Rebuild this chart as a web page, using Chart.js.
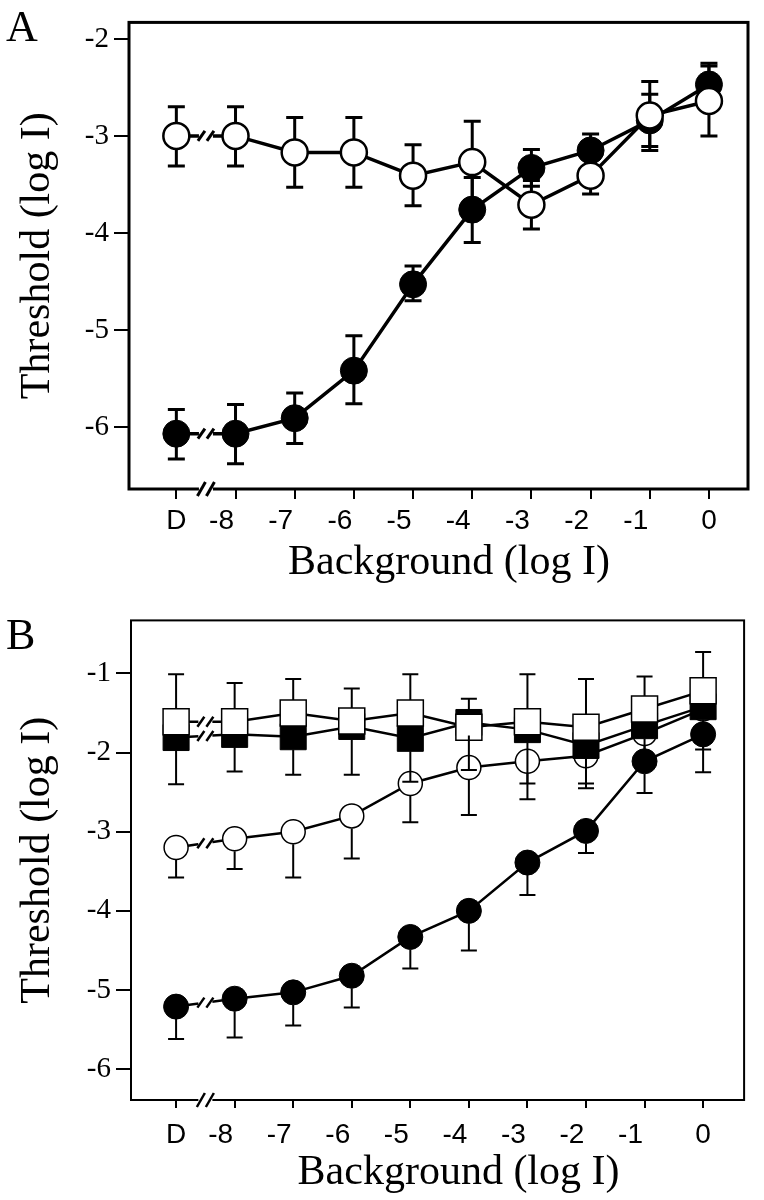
<!DOCTYPE html>
<html>
<head>
<meta charset="utf-8">
<title>Threshold vs background</title>
<script src="https://cdn.jsdelivr.net/npm/chart.js@4.4.1/dist/chart.umd.min.js"></script>
<style>
  body { margin: 0; background: #fff; }
  .panel { position: relative; width: 764px; }
  .panel canvas { display: block; }
  .letter {
    position: absolute; left: 6px; z-index: 1;
    font: 44px 'Liberation Serif', 'Times New Roman', serif; line-height: 1;
  }
</style>
</head>
<body>
<div class="panel" style="height:598px">
  <div class="letter" style="top:5px">A</div>
  <canvas id="chartA" width="764" height="598"></canvas>
</div>
<div class="panel" style="height:602px">
  <div class="letter" style="top:15px">B</div>
  <canvas id="chartB" width="764" height="602"></canvas>
</div>
<script>
// Background (log I); D = dark
const xLabels = ['D', '-8', '-7', '-6', '-5', '-4', '-3', '-2', '-1', '0'];
const xPos = [0, 1, 2, 3, 4, 5, 6, 7, 8, 9];

// Panel A
const aTicks = [-2, -3, -4, -5, -6];
const aOpen   = [-3.00, -3.00, -3.17, -3.17, -3.41, -3.27, -3.71, -3.41, -2.79, -2.64];
const aOpenHi = [-2.70, -2.70, -2.81, -2.81, -3.09, -2.85, -3.46, -3.22, -2.44, -2.28];
const aOpenLo = [-3.31, -3.31, -3.53, -3.53, -3.72, -3.69, -3.96, -3.60, -3.15, -3.00];
const aFilled   = [-6.07, -6.07, -5.91, -5.42, -4.53, -3.76, -3.33, -3.15, -2.84, -2.47];
const aFilledHi = [-5.82, -5.77, -5.65, -5.06, -4.34, -3.43, -3.14, -2.98, -2.57, -2.25];
const aFilledLo = [-6.33, -6.38, -6.17, -5.76, -4.70, -4.10, -3.52, -3.32, -3.11, -2.69];

// Panel B
const bTicks = [-1, -2, -3, -4, -5, -6];
const bOpenSq   = [-1.61, -1.61, -1.50, -1.60, -1.50, -1.68, -1.61, -1.68, -1.45, -1.22];
const bOpenSqHi = [-1.01, -1.12, -1.07, -1.19, -1.01, -1.32, -1.01, -1.07, -1.04, -0.73];
const bFilledSq   = [-1.81, -1.77, -1.80, -1.67, -1.82, -1.62, -1.71, -1.91, -1.66, -1.42];
const bFilledSqLo = [-2.40, -2.24, -2.28, -2.28, -2.37, -2.22, -2.39, -2.39, -2.00, -1.70];
const bOpenCirc   = [-3.20, -3.09, -3.00, -2.80, -2.39, -2.19, -2.11, -2.04, -1.76, -1.45];
const bOpenCircLo = [-3.58, -3.47, -3.58, -3.34, -2.88, -2.79, -2.59, -2.45, -2.05, -1.96];
const bFilledCirc   = [-5.21, -5.11, -5.03, -4.82, -4.33, -4.00, -3.39, -2.99, -2.11, -1.77];
const bFilledCircLo = [-5.62, -5.60, -5.45, -5.22, -4.73, -4.50, -3.80, -3.27, -2.51, -2.25];

const serif = "'Liberation Serif', 'Times New Roman', serif";
const sans = "'Liberation Sans', Arial, sans-serif";

function toPoints(ys) {
  return xPos.map((x, i) => ({ x: x, y: ys[i] }));
}

// One plotted series: marker style + optional error bars
function series(values, style, errHi, errLo) {
  const filled = style.filled;
  return {
    data: toPoints(values),
    errHi: errHi || null,
    errLo: errLo || null,
    markerHalf: style.half,
    borderColor: '#000',
    borderWidth: style.lineWidth,
    pointStyle: style.shape,
    pointRadius: style.radius,
    pointBackgroundColor: filled ? '#000' : '#fff',
    pointBorderColor: '#000',
    pointBorderWidth: style.pointBorder,
    tension: 0,
    fill: false
  };
}

function drawSlashes(ctx, x, y, o) {
  ctx.strokeStyle = '#000';
  ctx.lineWidth = o.slashWidth;
  ctx.lineCap = 'butt';
  [-o.slashGap / 2, o.slashGap / 2].forEach(dx => {
    ctx.beginPath();
    ctx.moveTo(x + dx - o.slashW / 2, y + o.slashH / 2);
    ctx.lineTo(x + dx + o.slashW / 2, y - o.slashH / 2);
    ctx.stroke();
  });
}

function drawErrorBars(chart, o) {
  const ctx = chart.ctx;
  const yScale = chart.scales.y;
  ctx.save();
  ctx.strokeStyle = '#000';
  ctx.lineWidth = o.barWidth;
  ctx.lineCap = 'butt';
  chart.data.datasets.forEach((ds, i) => {
    const meta = chart.getDatasetMeta(i);
    const edge = o.barsOnTop ? ds.markerHalf : 0;
    meta.data.forEach((pt, j) => {
      [[ds.errHi, -1], [ds.errLo, 1]].forEach(([arr, dir]) => {
        if (!arr) return;
        const yEnd = yScale.getPixelForValue(arr[j]);
        const yStart = pt.y + dir * edge;
        if ((yEnd - yStart) * dir <= 0) return;
        ctx.beginPath();
        ctx.moveTo(pt.x, yStart);
        ctx.lineTo(pt.x, yEnd);
        ctx.moveTo(pt.x - o.capWidth / 2, yEnd);
        ctx.lineTo(pt.x + o.capWidth / 2, yEnd);
        ctx.stroke();
      });
    });
  });
  ctx.restore();
}

// "//" break on every line between D and -8
function drawLineBreaks(chart, o) {
  const ctx = chart.ctx;
  const bx = chart.scales.x.getPixelForValue(0.5);
  ctx.save();
  chart.data.datasets.forEach((ds, i) => {
    const pts = chart.getDatasetMeta(i).data;
    const p0 = pts[0], p1 = pts[1];
    const slope = (p1.y - p0.y) / (p1.x - p0.x);
    const by = p0.y + (bx - p0.x) * slope;
    ctx.strokeStyle = '#fff';
    ctx.lineWidth = ds.borderWidth + 2;
    ctx.beginPath();
    ctx.moveTo(bx - o.gap, by - slope * o.gap);
    ctx.lineTo(bx + o.gap, by + slope * o.gap);
    ctx.stroke();
    drawSlashes(ctx, bx, by, o);
  });
  ctx.restore();
}

function drawFrame(chart, o) {
  const ctx = chart.ctx;
  const a = chart.chartArea;
  ctx.save();
  ctx.strokeStyle = '#000';
  ctx.lineWidth = o.frameWidth;
  ctx.strokeRect(a.left, a.top, a.right - a.left, a.bottom - a.top);
  // axis break
  const bx = chart.scales.x.getPixelForValue(0.5);
  ctx.fillStyle = '#fff';
  ctx.fillRect(bx - o.gap, a.bottom - o.frameWidth, o.gap * 2, o.frameWidth * 2);
  drawSlashes(ctx, bx, a.bottom, { slashWidth: o.slashWidth, slashGap: 9, slashW: 8, slashH: 14 });
  ctx.restore();
}

const panelDecor = {
  id: 'panelDecor',
  beforeDatasetsDraw(chart, args, o) {
    if (!o.barsOnTop) drawErrorBars(chart, o);
  },
  afterDatasetsDraw(chart, args, o) {
    if (o.barsOnTop) drawErrorBars(chart, o);
    drawLineBreaks(chart, o);
  },
  afterDraw(chart, args, o) {
    drawFrame(chart, o);
  }
};

function makePanel(id, p) {
  return new Chart(document.getElementById(id), {
    type: 'line',
    data: { datasets: p.datasets },
    options: {
      responsive: false,
      devicePixelRatio: 1,
      animation: false,
      events: [],
      layout: { padding: { top: p.padTop, right: p.padRight, left: 0, bottom: 0 } },
      plugins: {
        legend: { display: false },
        tooltip: { enabled: false },
        panelDecor: p.decor
      },
      scales: {
        x: {
          type: 'linear',
          min: p.xMin,
          max: p.xMax,
          afterBuildTicks: s => { s.ticks = xPos.map(v => ({ value: v })); },
          afterFit: s => { s.height = p.xHeight; },
          border: { display: false },
          grid: { display: true, drawOnChartArea: false, drawTicks: true, tickLength: p.xTickLen, color: '#000', lineWidth: 2 },
          ticks: {
            autoSkip: false,
            maxRotation: 0,
            padding: p.xTickPad,
            color: '#000',
            font: { family: sans, size: 28 },
            callback: v => {
              const s = xLabels[v];
              return s.startsWith('-') ? s + '\u2003' : s;
            }
          },
          title: {
            display: true,
            text: p.xTitle,
            color: '#000',
            font: { family: serif, size: 42 },
            padding: { top: 0, bottom: p.xTitlePad }
          }
        },
        y: {
          min: p.yMin,
          max: p.yMax,
          afterBuildTicks: s => { s.ticks = p.yTicks.map(v => ({ value: v })); },
          afterFit: s => { s.width = p.yWidth; },
          border: { display: false },
          grid: { display: true, drawOnChartArea: false, drawTicks: true, tickLength: 15, color: '#000', lineWidth: 2 },
          ticks: {
            padding: 5,
            color: '#000',
            font: { family: serif, size: 29 },
            callback: v => String(v)
          },
          title: {
            display: true,
            text: 'Threshold (log I)',
            color: '#000',
            font: { family: serif, size: 42 },
            padding: { top: 13, bottom: 0 }
          }
        }
      }
    },
    plugins: [panelDecor]
  });
}

const openCircleA = { shape: 'circle', radius: 13, pointBorder: 2.5, filled: false, lineWidth: 3.5, half: 13.5 };
const filledCircleA = { shape: 'circle', radius: 13.5, pointBorder: 1, filled: true, lineWidth: 3.5, half: 13.5 };

makePanel('chartA', {
  datasets: [
    series(aOpen, openCircleA, aOpenHi, aOpenLo),
    series(aFilled, filledCircleA, aFilledHi, aFilledLo)
  ],
  xMin: -0.8, xMax: 9.66,
  yMin: -6.64, yMax: -1.83, yTicks: aTicks,
  padTop: 8, padRight: 16, yWidth: 129, xHeight: 109,
  xTickLen: 10, xTickPad: 5, xTitlePad: 10,
  xTitle: '\u2002Background (log I)',
  decor: { barsOnTop: false, barWidth: 3, capWidth: 17, frameWidth: 3,
           gap: 7, slashWidth: 3, slashGap: 9, slashW: 7, slashH: 10 }
});

const openSqB = { shape: 'rect', radius: 18.4, pointBorder: 1.5, filled: false, lineWidth: 2.5, half: 13 };
const filledSqB = { shape: 'rect', radius: 18.4, pointBorder: 1, filled: true, lineWidth: 2.5, half: 13 };
const openCircleB = { shape: 'circle', radius: 12, pointBorder: 1.5, filled: false, lineWidth: 2.5, half: 12.5 };
const filledCircleB = { shape: 'circle', radius: 12.5, pointBorder: 1, filled: true, lineWidth: 2.5, half: 12.5 };

makePanel('chartB', {
  datasets: [
    series(bOpenSq, openSqB, bOpenSqHi, null),
    series(bFilledSq, filledSqB, null, bFilledSqLo),
    series(bFilledCirc, filledCircleB, null, bFilledCircLo),
    series(bOpenCirc, openCircleB, null, bOpenCircLo)
  ],
  xMin: -0.77, xMax: 9.7,
  yMin: -6.39, yMax: -0.33, yTicks: bTicks,
  padTop: 19, padRight: 10, yWidth: 131, xHeight: 100,
  xTickLen: 8, xTickPad: 10, xTitlePad: 2,
  xTitle: '\u2002\u2002Background (log I)',
  decor: { barsOnTop: true, barWidth: 2, capWidth: 16, frameWidth: 2,
           gap: 7, slashWidth: 2.5, slashGap: 9, slashW: 7, slashH: 10 }
});
</script>
</body>
</html>
